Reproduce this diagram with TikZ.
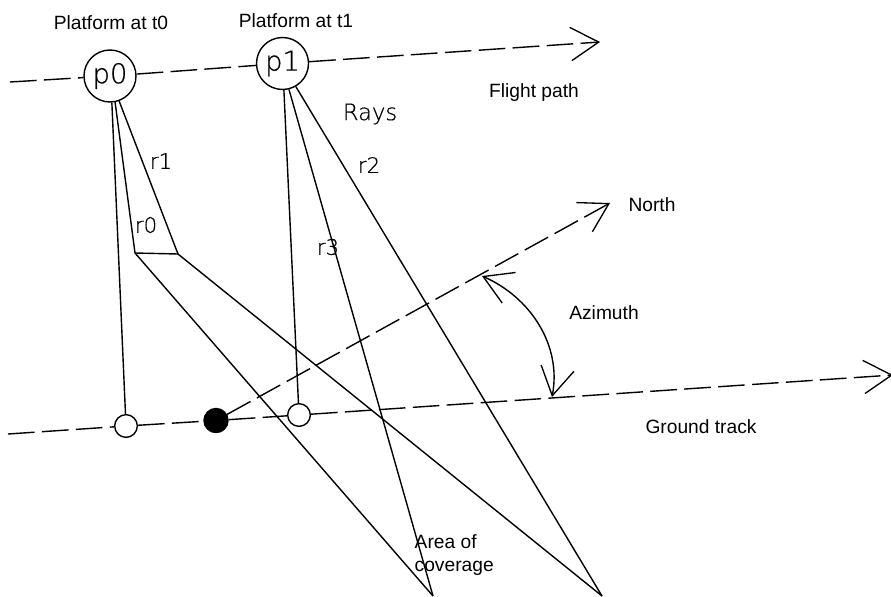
\documentclass[tikz,border=0pt]{standalone}
\usepackage{fontspec}
\setmainfont{Liberation Sans}
\newfontfamily\cadfont[FakeBold=0.4]{DejaVu Sans ExtraLight}
\usetikzlibrary{arrows.meta}
\tikzset{barb/.tip={Straight Barb[length=21pt,width=25pt,line width=1pt]}}

\begin{document}
\begin{tikzpicture}[x=0.75pt,y=-0.75pt,line width=1.05pt,
  arr/.style={-barb},
  track/.style={dash pattern=on 20pt off 5.5pt},
  plat/.style={circle,draw,minimum size=39pt,inner sep=0pt,font=\cadfont\fontsize{20.5}{22}\selectfont},
  foot/.style={circle,draw,minimum size=17pt,inner sep=0pt},
  lbl/.style={font=\fontsize{14.4}{17.5}\selectfont},
  cad/.style={font=\cadfont\fontsize{16}{18}\selectfont}]
  \useasboundingbox (0,0) rectangle (891,596);
  % Platforms
  \node[plat] (p0) at (110,76) {p0};
  \node[plat] (p1) at (282.5,63.5) {p1};
  % Points on the ground
  \node[foot] (g0) at (126,426) {};
  \node[foot,fill=black,minimum size=18pt] (origin) at (216,420.5) {};
  \node[foot] (g1) at (299,415) {};
  % Free ends
  \coordinate (flightstart) at (10,82);
  \coordinate (flightend) at (600,42);
  \coordinate (groundstart) at (8,434);
  \coordinate (groundend) at (893,375);
  \coordinate (northend) at (610,203);
  \coordinate (aznorth) at (482,276);
  \coordinate (azground) at (552,397);
  \coordinate (cornerl) at (135,253);
  \coordinate (cornerr) at (178,254);
  \coordinate (areal) at (433,596);
  \coordinate (arear) at (602,596);
  % Flight path
  \draw[track] (flightstart) -- (p0);
  \draw[track] (p0) -- (p1);
  \draw[track,arr] (p1) -- (flightend);
  % Ground track
  \draw[track] (groundstart) -- (g0);
  \draw[track] (g0) -- (origin);
  \draw[track] (origin) -- (g1);
  \draw[track,arr] (g1) -- (groundend);
  % North
  \draw[track,arr] (origin) -- (northend);
  % Azimuth
  \draw[barb-barb] (aznorth) .. controls (530,297) and (562,345) .. (azground);
  % Rays from p0
  \draw (p0.-86) -- (g0);
  \draw (p0.-79) -- (cornerl) -- (areal);
  \draw (p0.-70) -- (cornerr) -- (arear);
  \draw (cornerl) -- (cornerr);
  % Rays from p1
  \draw (p1.-87) -- (g1);
  \draw (p1.-76) -- (areal);
  \draw (p1.-60) -- (arear);
  % Labels
  \node[lbl] (lt0) at (111,23) {Platform at t0};
  \node[lbl] (lt1) at (296,21) {Platform at t1};
  \node[lbl] (lflight) at (534,93) {Flight path};
  \node[lbl] (lnorth) at (652,205) {North};
  \node[lbl] (lazimuth) at (604,313) {Azimuth};
  \node[lbl] (lground) at (701,427) {Ground track};
  \node[lbl,align=left,anchor=north west,inner sep=0pt] (larea) at (414,534) {Area of\\coverage};
  \node[cad,font=\cadfont\fontsize{17}{19}\selectfont] (lrays) at (370,114) {Rays};
  \node[cad] (lr1) at (161,161) {r1};
  \node[cad] (lr0) at (146,225) {r0};
  \node[cad] (lr2) at (369,165) {r2};
  \node[cad] (lr3) at (328,247) {r3};
\end{tikzpicture}
\end{document}
